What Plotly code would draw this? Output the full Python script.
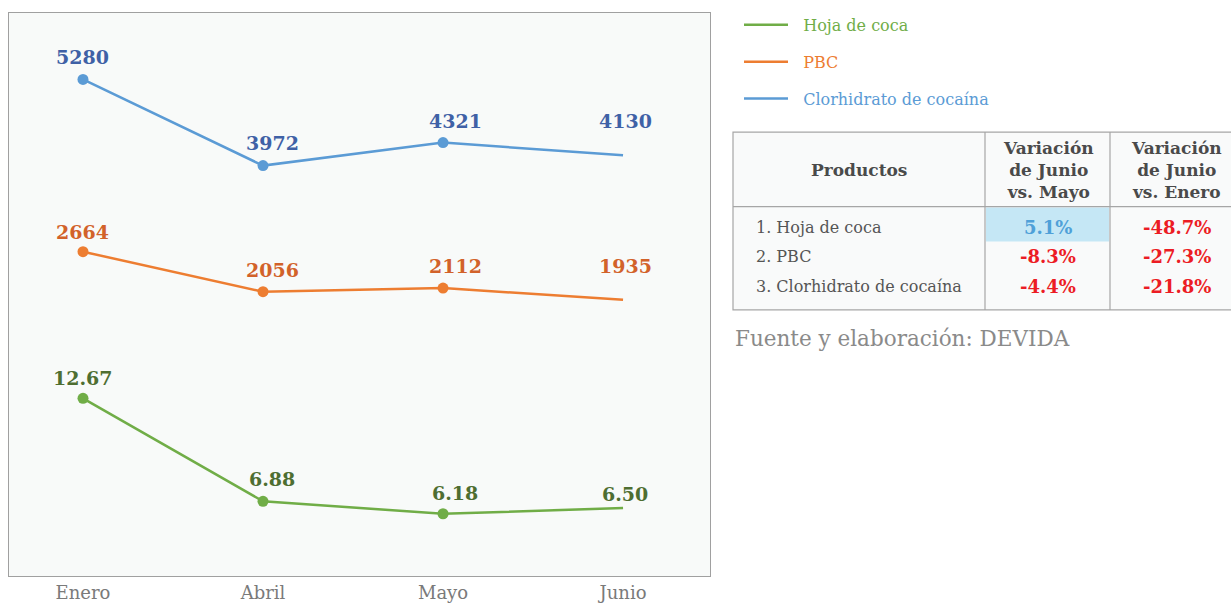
import plotly.graph_objects as go

# ---------------- data ----------------
months = ["Enero", "Abril", "Mayo", "Junio"]
hoja_coca = [12.67, 6.88, 6.18, 6.50]
pbc = [2664, 2056, 2112, 1935]
clorhidrato = [5280, 3972, 4321, 4130]
hoja_labels = ["12.67", "6.88", "6.18", "6.50"]

series_names = ["Hoja de coca", "PBC", "Clorhidrato de cocaína"]

table_headers = ["Productos", "Variación<br>de Junio<br>vs. Mayo", "Variación<br>de Junio<br>vs. Enero"]
productos = ["1. Hoja de coca", "2. PBC", "3. Clorhidrato de cocaína"]
var_junio_mayo = [5.1, -8.3, -4.4]
var_junio_enero = [-48.7, -27.3, -21.8]
source_text = "Fuente y elaboración: DEVIDA"

# ---------------- style ----------------
W, H = 1231, 603
FONT = "DejaVu Serif"
C_GREEN, C_ORANGE, C_BLUE = "#70ad47", "#ed7d31", "#5b9bd5"
L_GREEN, L_ORANGE, L_BLUE = "#4e6e31", "#d2622a", "#3f61a6"
GRID = "#a6a6a6"


def X(px):
    return px / W


def Y(py):
    return 1 - py / H


fig = go.Figure()

series = [
    (series_names[0], hoja_coca, C_GREEN, "y2"),
    (series_names[1], pbc, C_ORANGE, "y"),
    (series_names[2], clorhidrato, C_BLUE, "y"),
]
for i, (name, vals, col, yax) in enumerate(series):
    fig.add_trace(go.Scatter(
        x=months, y=vals, mode="lines", yaxis=yax,
        line=dict(color=col, width=2.5),
        name=f"<span style='color:{col}'>\u00a0\u00a0{name}</span>",
        legendgroup=f"g{i}",
        hoverinfo="skip",
    ))
    fig.add_trace(go.Scatter(
        x=months[:3], y=vals[:3], mode="markers", yaxis=yax,
        marker=dict(color=col, size=11),
        showlegend=False, hoverinfo="skip",
    ))

annotations = []
label_specs = [
    (hoja_coca, hoja_labels, L_GREEN, "y2", [20, 22, 21, 14]),
    (pbc, [str(v) for v in pbc], L_ORANGE, "y", [20, 22, 22, 34]),
    (clorhidrato, [str(v) for v in clorhidrato], L_BLUE, "y", [22, 23, 22, 34]),
]
xshifts = [0, 9, 12, 2]
for vals, labels, col, yref, yshifts in label_specs:
    for j, (m, v, lab) in enumerate(zip(months, vals, labels)):
        annotations.append(dict(
            x=m, y=v, xref="x", yref=yref, text=f"<b>{lab}</b>",
            showarrow=False, yshift=yshifts[j], xshift=xshifts[j],
            xanchor="center", yanchor="middle",
            font=dict(family=FONT, size=19, color=col),
        ))

# ---------------- table (shapes + annotations) ----------------
t_left, t_top = 733, 133
col_w = [252, 125, 130]
header_h = 75
body_bottom = 312
col_x = [t_left]
for w in col_w:
    col_x.append(col_x[-1] + w)

shapes = []
shapes.append(dict(type="rect", xref="paper", yref="paper",
                   x0=X(col_x[0]), x1=X(col_x[-1]), y0=Y(body_bottom), y1=Y(t_top),
                   fillcolor="#f9fafa", line=dict(color=GRID, width=1.2), layer="below"))
# highlighted cell (positive change)
hl_row_top, hl_row_bottom = t_top + header_h, t_top + header_h + 35
for r, v in enumerate(var_junio_mayo):
    if v > 0:
        shapes.append(dict(type="rect", xref="paper", yref="paper",
                           x0=X(col_x[1] + 1), x1=X(col_x[2] - 1),
                           y0=Y(hl_row_bottom + r * 29.5), y1=Y(hl_row_top + r * 29.5 + 1),
                           fillcolor="#c5e7f5", line=dict(width=0), layer="below"))
# header line
shapes.append(dict(type="line", xref="paper", yref="paper",
                   x0=X(col_x[0]), x1=X(col_x[-1]), y0=Y(t_top + header_h), y1=Y(t_top + header_h),
                   line=dict(color=GRID, width=1.2)))
# column lines
for cx in col_x[1:-1]:
    shapes.append(dict(type="line", xref="paper", yref="paper",
                       x0=X(cx), x1=X(cx), y0=Y(body_bottom), y1=Y(t_top),
                       line=dict(color=GRID, width=1.2)))

head_y = t_top + header_h / 2 + 1
for k, htxt in enumerate(table_headers):
    annotations.append(dict(
        x=X((col_x[k] + col_x[k + 1]) / 2 + (1 if k else 0)), y=Y(head_y), xref="paper", yref="paper",
        text=f"<b>{htxt}</b>", showarrow=False, xanchor="center", yanchor="middle",
        align="center", font=dict(family=FONT, size=17, color="#4a4a4a"),
    ))

for r in range(len(productos)):
    ty = 229 + r * 29.5
    annotations.append(dict(
        x=X(col_x[0] + 21), y=Y(ty), xref="paper", yref="paper",
        text=productos[r], showarrow=False, xanchor="left", yanchor="middle",
        font=dict(family=FONT, size=16, color="#555555"),
    ))
    for k, vals in enumerate([var_junio_mayo, var_junio_enero]):
        v = vals[r]
        col = "#4fa0d8" if v > 0 else "#ec1c24"
        annotations.append(dict(
            x=X((col_x[k + 1] + col_x[k + 2]) / 2 + (0 if k == 0 else 2)), y=Y(ty), xref="paper", yref="paper",
            text=f"<b>{v:.1f}%</b>", showarrow=False, xanchor="center", yanchor="middle",
            font=dict(family=FONT, size=18, color=col),
        ))

annotations.append(dict(
    x=X(733), y=Y(341), xref="paper", yref="paper", text=source_text,
    showarrow=False, xanchor="left", yanchor="middle",
    font=dict(family=FONT, size=21.5, color="#8a8a8a"),
))

# ---------------- layout ----------------
fig.update_layout(
    width=W, height=H,
    margin=dict(l=0, r=0, t=0, b=0),
    paper_bgcolor="white",
    plot_bgcolor="#f8faf9",
    font=dict(family=FONT),
    xaxis=dict(
        domain=[X(9), X(710)], range=[-0.411, 3.483],
        showgrid=False, zeroline=False, showline=True, mirror=True,
        linecolor="#a0a0a0", linewidth=1.2, ticks="",
        tickfont=dict(family=FONT, size=18, color="#7a7a7a"),
    ),
    yaxis=dict(
        domain=[Y(580), Y(13)], range=[-2264, 6291],
        showgrid=False, zeroline=False, showticklabels=False,
        showline=True, mirror=True, linecolor="#a0a0a0", linewidth=1.2,
    ),
    yaxis2=dict(
        domain=[Y(580), Y(13)], range=[2.67, 34.35], overlaying="y",
        showgrid=False, zeroline=False, showticklabels=False, visible=False,
    ),
    legend=dict(
        x=X(739), y=Y(8), xanchor="left", yanchor="top",
        font=dict(family=FONT, size=16),
        bgcolor="rgba(0,0,0,0)", tracegroupgap=13, itemwidth=44,
    ),
    annotations=annotations,
    shapes=shapes,
)

fig.write_html(
    "out.html",
    config={"displayModeBar": False},
    post_script="document.body.style.margin='0';document.body.style.padding='0';",
)
